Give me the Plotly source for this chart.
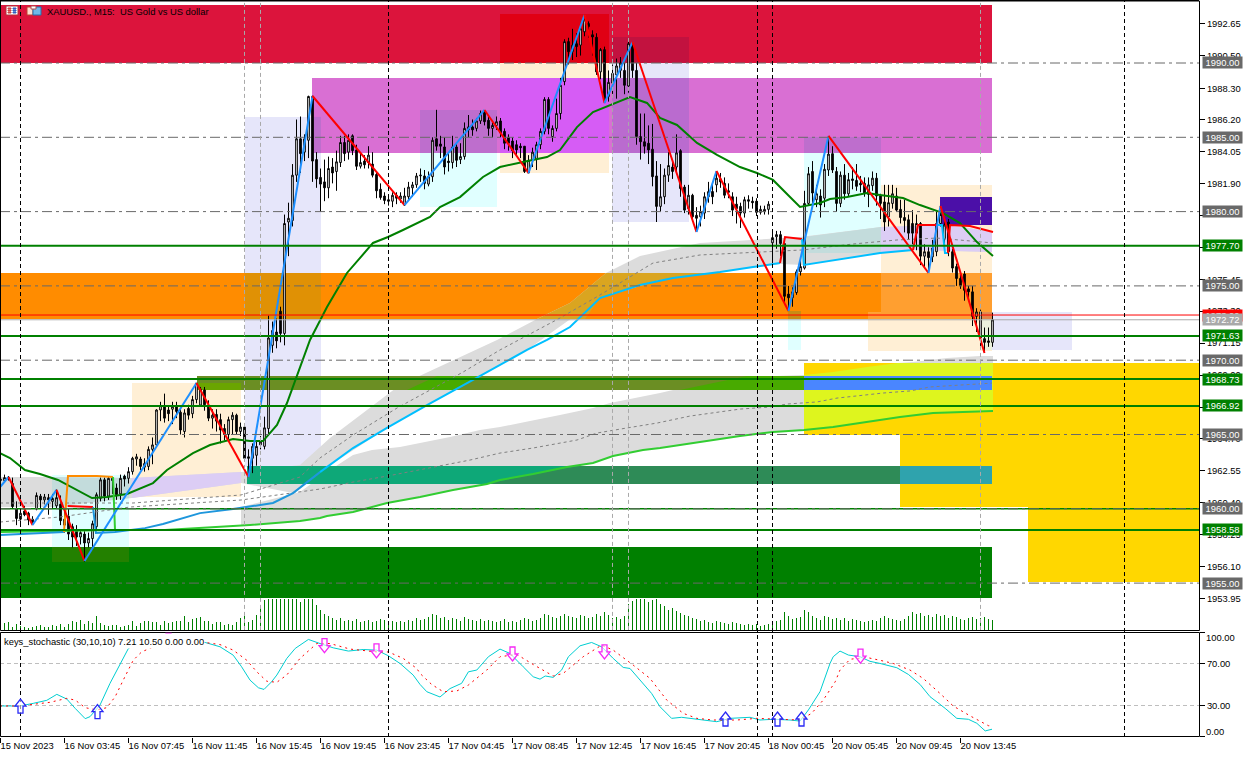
import plotly.graph_objects as go

# ---------- candles (15-minute bars) ----------
opens = [
1961.9,1961.9,1962.1,1961.7,1960.0,1959.3,1959.85,1959.7,1959.3,1960.0,
1960.85,1960.6,1960.75,1960.5,1960.2,1960.3,1958.9,1959.5,1958.8,1958.6,
1958.1,1958.3,1957.7,1958.0,1958.8,1960.7,1961.95,1960.85,1962.05,1961.4,
1961.0,1962.2,1962.05,1962.5,1963.35,1963.35,1962.8,1962.85,1964.0,1964.3,
1966.65,1966.9,1966.65,1966.7,1966.9,1966.5,1965.2,1966.75,1966.4,1967.35,
1966.98,1968.0,1966.95,1966.1,1966.35,1966.0,1965.4,1965.0,1966.0,1966.3,
1965.2,1965.5,1963.5,1963.4,1963.6,1964.3,1964.2,1965.4,1971.0,1971.9,
1973.3,1971.8,1979.3,1979.4,1982.45,1984.9,1984.0,1984.8,1987.75,1983.5,
1982.3,1982.0,1981.6,1983.0,1982.7,1983.3,1984.65,1984.0,1985.1,1984.15,
1983.05,1983.4,1983.3,1983.2,1982.5,1981.5,1981.05,1980.8,1980.7,1981.1,
1980.85,1980.45,1981.0,1981.6,1981.8,1982.4,1982.4,1981.85,1982.35,1984.9,
1984.55,1984.35,1983.4,1983.3,1984.35,1983.5,1983.7,1985.5,1985.7,1985.6,
1986.1,1986.7,1986.15,1985.6,1985.8,1986.1,1985.4,1985.0,1984.75,1984.5,
1984.4,1984.4,1982.6,1983.5,1983.5,1984.5,1985.4,1987.55,1985.05,1985.6,
1986.6,1988.75,1991.44,1990.76,1991.3,1991.2,1992.1,1992.65,1991.9,1991.73,
1989.4,1990.9,1987.75,1988.65,1989.2,1989.5,1989.5,1988.45,1991.3,1989.5,
1985.05,1984.7,1984.6,1984.2,1982.4,1980.35,1981.0,1982.45,1983.0,1983.0,
1984.1,1981.65,1980.2,1981.1,1979.75,1979.65,1979.9,1981.0,1981.35,1981.8,
1982.2,1981.9,1981.4,1981.0,1980.5,1980.35,1979.9,1980.8,1980.7,1980.7,
1979.95,1980.0,1980.15,1977.9,1978.3,1978.45,1977.85,1974.45,1974.2,1974.55,
1975.95,1976.2,1980.55,1982.7,1980.8,1981.05,1980.9,1982.8,1983.9,1982.7,
1980.55,1982.45,1981.2,1982.2,1982.1,1981.9,1981.9,1981.15,1981.75,1982.25,
1981.05,1980.65,1979.65,1980.55,1981.05,1980.15,1979.6,1979.45,1979.2,1978.55,
1979.2,1977.0,1977.3,1976.95,1977.3,1979.2,1978.15,1979.3,1977.3,1976.3,
1975.5,1975.8,1974.8,1974.6,1972.95,1971.5,1971.45,1971.3,1971.2]
closes = [
1962.0,1962.1,1962.0,1960.15,1959.35,1959.7,1959.6,1959.25,1959.1,1960.9,
1960.6,1960.8,1960.6,1960.7,1960.75,1959.2,1959.3,1958.3,1958.1,1958.1,
1958.4,1957.7,1958.0,1959.0,1960.95,1961.95,1960.85,1962.05,1961.9,1960.95,
1962.05,1962.0,1962.5,1963.4,1963.5,1962.85,1963.05,1964.0,1964.3,1966.65,
1966.95,1966.1,1966.4,1966.9,1966.55,1965.3,1966.45,1966.3,1967.35,1968.45,
1968.05,1967.0,1966.1,1966.3,1965.9,1965.3,1965.0,1966.0,1966.3,1965.2,
1965.5,1963.4,1963.4,1964.2,1964.2,1964.5,1965.45,1971.5,1972.0,1971.3,
1971.8,1979.2,1979.55,1982.45,1984.9,1983.9,1984.9,1987.75,1983.4,1982.2,
1981.85,1981.6,1982.9,1982.6,1983.35,1984.65,1983.9,1984.8,1984.1,1983.05,
1983.3,1983.15,1983.8,1982.45,1981.4,1980.95,1980.75,1980.7,1981.1,1980.9,
1981.05,1981.05,1981.65,1981.8,1982.4,1982.45,1981.9,1982.35,1984.8,1984.4,
1984.4,1983.0,1983.3,1984.35,1983.45,1983.7,1985.6,1985.7,1985.5,1986.1,
1986.6,1986.05,1985.6,1985.8,1986.05,1985.3,1984.6,1984.6,1984.1,1984.15,
1984.3,1982.7,1983.45,1984.0,1984.5,1985.4,1987.55,1985.6,1985.6,1986.6,
1988.5,1991.44,1990.76,1991.2,1991.1,1992.3,1992.9,1992.45,1991.75,1989.4,
1990.9,1987.5,1988.7,1989.3,1989.8,1990.0,1988.5,1991.3,1989.5,1985.05,
1984.7,1984.4,1984.15,1982.35,1980.35,1981.0,1982.45,1983.1,1982.7,1983.95,
1981.55,1980.1,1981.1,1979.65,1979.55,1980.0,1981.0,1981.35,1981.0,1982.25,
1982.0,1981.1,1981.3,1980.1,1980.2,1979.9,1980.8,1980.7,1980.6,1979.95,
1980.15,1980.15,1980.5,1978.25,1978.45,1977.85,1974.3,1974.2,1974.6,1975.95,
1976.3,1980.55,1982.55,1981.25,1981.2,1980.45,1982.85,1983.87,1982.8,1980.55,
1982.45,1981.2,1982.15,1982.1,1981.7,1981.8,1981.25,1981.8,1982.25,1981.05,
1980.55,1979.3,1980.6,1981.2,1980.1,1979.6,1979.4,1978.55,1978.55,1979.2,
1977.0,1977.3,1976.9,1977.55,1979.2,1979.8,1979.1,1977.3,1976.2,1975.5,
1975.0,1974.7,1974.6,1972.95,1973.25,1973.25,1971.2,1971.2,1972.72]
highs = [
1962.2,1962.3,1962.2,1962.1,1960.5,1960.0,1960.2,1959.8,1959.5,1961.1,
1961.0,1961.0,1961.0,1961.0,1961.3,1960.9,1960.0,1960.0,1959.0,1958.9,
1958.6,1958.5,1958.4,1959.2,1961.1,1962.1,1962.1,1962.2,1962.2,1961.7,
1962.3,1962.3,1962.8,1963.5,1963.7,1963.5,1963.4,1964.2,1964.8,1966.7,
1967.2,1967.75,1966.9,1967.2,1967.2,1966.7,1966.7,1967.0,1967.6,1968.45,
1968.2,1968.2,1967.3,1966.7,1966.7,1966.4,1965.7,1966.2,1966.5,1966.4,
1965.8,1965.6,1964.0,1964.4,1964.5,1964.9,1966.2,1973.0,1972.6,1972.8,
1973.6,1979.8,1980.6,1983.2,1986.2,1986.4,1985.2,1987.8,1987.8,1984.0,
1982.9,1983.5,1983.7,1983.6,1984.1,1985.1,1985.1,1985.2,1985.2,1984.5,
1984.0,1983.8,1984.4,1984.0,1982.7,1981.9,1981.3,1981.1,1981.3,1981.3,
1981.3,1981.6,1982.0,1982.0,1982.6,1982.9,1982.8,1982.7,1985.0,1986.85,
1985.1,1985.0,1984.0,1985.1,1984.6,1984.6,1986.0,1986.5,1986.2,1986.3,
1986.8,1986.84,1986.5,1986.0,1986.4,1986.3,1985.6,1985.2,1985.0,1984.8,
1984.6,1984.4,1983.8,1984.3,1984.7,1985.6,1987.7,1987.7,1985.8,1987.6,
1989.0,1991.6,1991.7,1992.3,1992.0,1992.6,1993.23,1992.8,1992.2,1992.0,
1991.0,1991.1,1989.5,1989.9,1990.3,1990.4,1990.0,1991.5,1991.41,1990.0,
1986.6,1986.6,1985.8,1985.9,1983.4,1983.2,1982.9,1984.0,1983.4,1985.2,
1984.2,1981.8,1981.8,1981.2,1980.3,1980.4,1981.3,1982.0,1981.9,1982.73,
1982.6,1982.3,1981.9,1981.3,1981.0,1980.6,1981.0,1981.1,1981.0,1980.9,
1980.4,1980.4,1980.7,1978.7,1978.7,1978.7,1977.9,1975.0,1974.9,1976.1,
1976.9,1981.4,1983.0,1983.4,1981.8,1981.5,1983.2,1985.09,1984.4,1983.0,
1982.7,1983.2,1982.6,1983.0,1983.2,1982.4,1982.3,1982.3,1982.7,1982.6,
1981.2,1981.8,1981.8,1981.8,1981.6,1980.8,1980.8,1979.8,1980.1,1979.8,
1979.3,1977.8,1977.6,1978.1,1980.0,1980.38,1979.5,1979.5,1977.5,1976.5,
1976.0,1976.0,1975.0,1975.0,1973.5,1973.4,1972.2,1972.2,1973.2]
lows = [
1961.7,1961.8,1961.9,1960.0,1958.9,1959.0,1959.5,1958.9,1958.9,1959.9,
1960.0,1960.3,1959.6,1960.0,1960.0,1958.9,1958.4,1957.9,1957.4,1957.5,
1957.6,1956.45,1957.4,1957.3,1958.6,1960.5,1960.5,1960.6,1961.0,1960.6,
1960.6,1961.5,1961.7,1962.3,1962.9,1962.6,1962.5,1962.6,1963.0,1964.2,
1965.9,1965.8,1965.9,1965.7,1966.1,1965.0,1964.8,1966.0,1966.1,1967.1,
1966.9,1966.6,1965.9,1965.4,1965.2,1964.4,1964.6,1964.5,1965.0,1965.0,
1964.9,1963.3,1962.14,1962.4,1962.9,1964.0,1964.0,1965.0,1970.5,1970.8,
1971.2,1971.0,1977.0,1979.0,1982.0,1982.6,1983.4,1983.6,1982.0,1981.6,
1980.0,1980.7,1980.9,1981.9,1981.4,1983.0,1983.4,1983.5,1983.8,1982.8,
1982.9,1982.9,1982.9,1982.3,1980.9,1980.8,1980.5,1980.4,1980.3,1980.5,
1980.6,1980.4,1980.8,1981.0,1981.6,1982.0,1981.5,1981.7,1982.0,1984.1,
1983.6,1982.5,1982.7,1982.9,1983.0,1983.2,1983.5,1985.0,1985.1,1985.4,
1985.9,1985.8,1985.1,1985.0,1985.5,1985.0,1984.2,1984.1,1983.6,1983.7,
1983.6,1982.6,1982.6,1983.0,1982.8,1984.2,1985.2,1985.2,1984.7,1985.4,
1986.2,1988.5,1989.9,1990.2,1990.4,1990.5,1991.8,1991.7,1990.5,1989.2,
1988.9,1987.3,1987.4,1987.9,1987.6,1989.0,1987.9,1988.0,1989.0,1984.5,
1983.5,1983.9,1983.2,1981.7,1979.3,1980.0,1980.5,1982.0,1982.2,1982.6,
1981.0,1979.9,1979.8,1979.3,1978.63,1979.0,1979.5,1980.6,1980.5,1981.3,
1981.6,1980.9,1980.9,1979.7,1979.2,1978.9,1979.6,1980.2,1980.2,1979.7,
1979.8,1979.8,1979.8,1976.5,1977.5,1977.0,1973.8,1973.31,1973.6,1974.4,
1975.7,1976.1,1980.4,1980.5,1980.3,1979.6,1980.3,1982.4,1982.6,1980.0,
1980.3,1980.8,1981.0,1981.5,1981.4,1981.3,1981.0,1980.3,1981.4,1980.4,
1979.5,1978.7,1979.0,1980.2,1980.0,1979.2,1978.6,1978.1,1977.8,1977.4,
1976.4,1976.2,1975.87,1976.6,1977.0,1979.0,1977.8,1977.0,1975.9,1975.0,
1974.8,1974.0,1974.2,1972.3,1971.9,1970.9,1970.49,1970.9,1970.9]
volumes = [
5,7,8,3,6,4,3,2,3,4, 5,3,3,5,4,6,3,6,9,8, 10,6,9,7,14,7,5,4,5,5, 3,4,5,9,4,7,9,9,8,8,
5,9,7,8,9,9,14,8,11,12, 13,9,9,6,8,8,5,6,5,8, 12,14,8,10,15,22,30,31,31,31,
31,31,31,31,31,28,31,31,31,25, 20,16,14,12,10,12,9,10,9,11, 8,9,10,8,9,11,10,7,9,8,
9,8,10,9,12,10,11,13,16,15, 12,13,10,12,11,9,13,11,10,9, 11,9,10,9,8,9,11,8,9,8,
10,12,11,9,10,12,16,15,13,12, 14,16,14,13,12,15,14,12,13,16, 14,18,15,12,13,11,14,26,29,31,
31,31,28,30,31,26,24,20,22,19, 17,15,14,12,11,9,10,8,7,9, 8,7,6,8,7,6,5,6,5,6,
4,5,6,7,9,10,18,14,11,12, 13,20,18,14,12,10,14,13,11,12, 10,12,9,11,10,9,8,9,10,9,
12,14,12,11,10,9,11,14,18,16, 17,14,15,13,16,14,15,12,14,13, 11,10,12,13,11,12,13,11,10]

# ---------- zigzag pivots ----------
zz_bar = [0,2,8,14,21,49,62,78,101,121,132,146,151,158,174,179,197,207,232,235,246]
zz_price = [1961.5,1962.14,1958.91,1961.27,1956.49,1968.47,1962.14,1987.78,1980.44,1986.84,1982.6,
            1993.23,1987.31,1991.41,1978.63,1982.73,1973.31,1985.09,1975.87,1980.38,1970.49]

# ---------- moving averages ----------
ma_green_bar = [0,2.5,6.25,10,14.5,19.25,23,26.75,31.75,38.25,41.75,48.25,52.5,58.25,62.5,65.75,69.25,71.75,75,77.5,
                81.75,86.75,93.25,97,100.75,107.5,110,115,120.75,125,130.75,136.75,140,144.25,148.25,151.25,154.25,
                157.5,161.75,165,169.25,174.25,179.25,185,189.25,193.25,197.5,200,205,207.5,211.75,216.75,220,225.75,
                230,235.75,240,244.25,248.25]
ma_green = [1963.75,1963.42,1962.61,1962.34,1961.94,1961.26,1960.72,1960.79,1961.0,1961.73,1962.61,1963.75,1964.29,
            1964.7,1964.56,1964.56,1965.64,1967.12,1969.54,1971.36,1973.58,1975.87,1977.89,1978.29,1978.76,1979.64,
            1980.31,1980.98,1982.33,1983.0,1983.34,1983.67,1984.14,1985.69,1986.7,1987.04,1987.38,1987.71,1987.31,
            1986.3,1985.83,1984.62,1983.81,1983.0,1982.6,1982.13,1980.98,1980.31,1980.58,1980.85,1980.98,1981.25,
            1981.12,1980.91,1980.44,1979.9,1979.23,1977.95,1977.01]

lime_bar = [0,28.75,41.25,62.5,75,80,81.75,88.25,96.75,105,113.25,121.75,125,133.25,141.75,148.25,153.25,160.75,165,
            173.25,185,193.25,201,208.25,216.75,225,233.25,241.75,248.25]
lime = [1958.44,1958.57,1958.57,1958.91,1959.18,1959.38,1959.51,1959.78,1960.39,1960.79,1961.26,1961.67,1961.94,
        1962.34,1962.81,1963.08,1963.55,1963.95,1964.09,1964.43,1964.9,1965.17,1965.3,1965.5,1965.84,1966.18,1966.44,
        1966.51,1966.58]

blue_a_bar = [0,16]
blue_a = [1958.23,1958.44]
orange_bar = [16,16.75,17,24.25,28.25]
orange = [1958.44,1961.06,1962.2,1962.2,1962.14]
green_step_bar = [28.25,28.75]
green_step = [1962.14,1958.57]
red_a_bar = [16.9,23.25]
red_a = [1960.19,1960.12]
blue_b_bar = [23.25,24,28.75,36.25,40.75,50,58.25,68.25,73.25,78.25,80]
blue_b = [1960.12,1958.37,1958.44,1958.7,1958.98,1959.71,1959.98,1960.39,1961.06,1962.07,1962.47]
blue_c_bar = [80,88.25,96.75,106.75,118.25,131.75,136.75,142.5,150,160,168.25,180,188.25,195]
blue_c = [1962.47,1964.09,1965.44,1966.98,1968.67,1970.69,1971.36,1972.23,1974.18,1975.06,1975.53,1975.93,1976.27,1976.54]
red_b_bar = [195,196.25,200.5]
red_b = [1976.54,1978.29,1978.16]
blue_d_bar = [200.5,201,220,228.25]
blue_d = [1978.16,1976.41,1977.21,1977.42]
red_c_bar = [228.25,229.5,234.25]
red_c = [1977.42,1979.1,1979.1]
blue_e_bar = [234.25,235.5,236.25,237]
blue_e = [1979.1,1979.1,1977.21,1977.21]
red_d_bar = [237,237.5,242.5,248.25]
red_d = [1977.21,1979.1,1979.03,1978.63]

dash_a_bar = [0,33.25,60.25,75,80,88.25,99.25,108.25,115.75,125,140,150,163.25,175,200.75,213.25,224.25,234.25,248.25]
dash_a = [1960.39,1960.39,1960.93,1962.14,1963.42,1964.96,1966.78,1968.13,1969.2,1970.69,1972.84,1974.39,1976.54,
          1977.08,1977.42,1977.82,1978.09,1978.22,1977.89]
dash_b_bar = [0,15,32.5,60.25,80,88.25,96.75,108.25,117.5,125,133.25,144.25,149.25,156.75,164.25,172.5,185,192.5,196.75,
              204.25,209.25,220.75,227.5,232.5,240,248]
dash_b = [1959.11,1959.45,1960.12,1960.59,1961.33,1961.8,1962.2,1962.81,1963.28,1963.75,1964.09,1964.63,1965.1,1965.44,
          1965.77,1966.24,1966.71,1966.85,1967.05,1967.19,1967.45,1967.79,1967.93,1968.2,1968.33,1968.46]

# ---------- grey clouds (edge values) ----------
cloud_a_top_bar = [0,13,33,60.25,75,82.5,100,124.25,134.25,142.5,151.5,160,169.25,175,200,220.25,237.5,248]
cloud_a_top = [1962.14,1962.14,1962.07,1962.47,1962.95,1964.76,1968.33,1971.36,1972.77,1973.85,1975.87,1977.01,1977.55,
               1977.89,1978.29,1978.96,1979.1,1978.63]
cloud_a_low_bar = [248,228.75,220,201,195,180,165,150,131.75,118.25,96.75,80,73.25,60.25,33,13,0]
cloud_a_low = [1977.28,1977.42,1977.21,1976.41,1976.47,1975.93,1975.4,1974.18,1970.69,1968.67,1965.44,1962.47,1961.06,
               1961.73,1960.72,1960.12,1960.12]
cloud_b_top_bar = [60.25,75,82.5,88.25,93,100,105,112.5,120,125,132.5,140,148.25,152.5,160,165,168.25,186.75,201,208.25,
                   216.75,224.5,228.25,236.75,245,248.25]
cloud_b_top = [1960.12,1961.13,1962.61,1963.62,1963.95,1964.16,1964.43,1964.83,1965.3,1965.5,1965.91,1966.31,1966.78,
               1967.12,1967.52,1967.79,1968.0,1968.87,1969.0,1969.2,1969.54,1969.81,1969.88,1970.15,1970.28,1970.28]
cloud_b_low_bar = [248.25,241.75,233.25,225,216.75,208.25,201,193.25,185,173.25,165,160.75,153.25,148.25,141.75,133.25,
                   125,121.75,113.25,105,96.75,88.25,81.75,80,75,62.5,60.25]
cloud_b_low = [1966.58,1966.51,1966.44,1966.18,1965.84,1965.5,1965.3,1965.17,1964.9,1964.43,1964.09,1963.95,1963.55,
               1963.08,1962.81,1962.34,1961.94,1961.67,1961.26,1960.79,1960.39,1959.78,1959.51,1959.38,1959.18,1958.91,
               1958.85]

# ---------- stochastic ----------
stoch_bar = [0,5,8.3,11.7,14.2,16.7,18.8,21.3,22.5,25,27.5,30,32.1,36.7,43.3,51.3,55,58.3,60.4,62.5,64.6,66,67.9,69.2,71.7,
             73.8,77.1,80,83.3,87.1,90.8,94.2,97.1,100,103.3,105,106.7,110,112.5,115.4,117.1,119.2,122.1,125,127.5,130.8,
             133.3,135,136.3,138.3,140.4,142.1,145,147.9,150.4,153.3,155.8,157.5,160.4,162.9,165,167.9,170.4,175.8,179.2,
             182.5,187.5,190,193.3,197.5,200,202.1,205,207.5,208.3,210,212.1,215,217.5,220,224.2,227.1,230,232.5,236.3,
             239.2,242.1,244.2,246.3,248]
stoch_main = [29.4,29.4,31.9,34.8,40.5,36,27.1,17.3,19.2,30.3,51,68.4,84.3,93,95,90,85.9,77.9,66.8,54.1,46.8,45.2,52.5,
              58.9,74.8,84.3,92.9,89,84.9,81.8,83.3,82.7,77.3,70,58.9,50,43,38,46,51,62,63.7,76.4,83.7,79.5,66.8,57.3,55,
              58,56.7,63.7,76.4,86.8,90,85.9,74.8,66.2,65.2,52.5,41.4,28.7,17.6,18.6,16.3,14.4,17.6,18.6,16,16.7,16,15,
              25.6,43,70,76.4,81.8,78,76.4,72,70,65.9,59.5,50,38.3,27.1,17.6,16.7,12.9,5.6,7.21]
signal_bar = [0,5,8.3,12.5,16.7,18.8,21.3,24.2,26.7,28.8,30.8,33.3,35.4,43.3,51.3,55,58.3,61.7,64.2,66.7,69.2,71.7,75,79.2,
              82.5,87.5,94.2,97.1,100.8,104.2,105,107.9,110.8,114.2,117.1,121.7,125,129.2,133.3,138.3,140.8,145.8,150.4,
              153.3,158.3,162.5,166.7,170.8,174.2,178.3,184.2,189.2,195,200,202.9,205.8,208.8,210,212.5,216.7,220,223.3,
              227.5,230.8,235,238.3,242.5,247.1,248]
signal = [29.4,29.4,31,32.9,36.7,35,27.8,25.6,27.8,38.3,54,73,81,94,90,88,82.7,73,62,53,52,59,74.8,89,89,83.7,81,81,74.8,
          65.2,60.5,50,43,43.7,49.4,63.7,76.4,78.6,69,58,60.5,76.4,87.5,82.7,68.4,55.7,35,22.4,17.6,16,16,17.6,16.7,16,22.4,
          35,52.5,63.7,74,75.7,73,70,63.7,55.7,41.4,29.4,20,10.6,10.5]
arrow_up_bar = [5,24.25,181.25,194.25,200.25]
arrow_up_val = [29.3,24,17,17,17]
arrow_dn_bar = [42,81,94,128,151,215]
arrow_dn_val = [92,87,82,79,81,77]

# ---------- labels ----------
x_tick_bars = list(range(0,241,16))
x_tick_text = ["15 Nov 2023","16 Nov 03:45","16 Nov 07:45","16 Nov 11:45","16 Nov 15:45","16 Nov 19:45","16 Nov 23:45",
               "17 Nov 04:45","17 Nov 08:45","17 Nov 12:45","17 Nov 16:45","17 Nov 20:45","18 Nov 00:45","20 Nov 05:45",
               "20 Nov 09:45","20 Nov 13:45"]
y_ticks = [1992.65,1990.50,1988.30,1986.20,1984.05,1981.90,1979.75,1977.60,1975.45,1973.30,1971.15,1969.00,1966.85,
           1964.70,1962.55,1960.40,1958.25,1956.10,1953.95]
y_ticks_covered = [1979.75,1977.60,1966.85]
round_levels = [1990,1985,1980,1975,1970,1965,1960,1955]
green_levels = [1977.70,1971.63,1968.73,1966.92,1958.58]
red_level = 1973.04
silver_level = 1972.72

# x0, x1, low, high, colour
base_zones = [
 (0,248,1990,1993.9,"#DC143C"),(125,152.25,1990,1993.3,"#E00014"),(153,172.25,1990,1991.75,"#C2123F"),
 (78,248,1983.94,1988.99,"#D96FD3"),(0,248,1972.77,1975.87,"#FF8C00"),(0,248,1954,1957.43,"#008000"),
 (125,152.25,1982.6,1990,"#FFEFD5"),(125,152.25,1983.94,1988.99,"#D65CF5"),
 (153,172.25,1979.3,1990,"#E6E6FA"),(153,172.25,1983.94,1988.99,"#BA6BCF"),(153,172.25,1990,1991.75,"#C2123F"),
 (105,124.25,1980.31,1986.84,"#E0FFFF"),(105,124.25,1983.94,1986.84,"#BE6ECD"),
 (61.25,80.25,1962.81,1986.37,"#E6E6FA"),(78,80.25,1983.94,1986.37,"#BE6ECD"),(61.25,80.25,1972.77,1975.87,"#E09105"),
 (201,220.25,1977.21,1985.02,"#E0FFFF"),(201,220.25,1983.94,1985.02,"#BE6ECD"),
 (197,200.25,1970.69,1973.31,"#E0FFFF"),(197,200.25,1972.77,1973.31,"#C88C14"),
 (220.25,248,1972.77,1981.79,"#FFEFD5"),(217,248,1970.62,1973.24,"#FFEFD5"),(220.25,248,1972.77,1975.87,"#FF9F30"),
 (217,220.25,1972.77,1973.24,"#FF9F30"),(245.5,268,1970.69,1973.24,"#E6E6FA"),(245.5,248,1970.69,1972.77,"#EBF0DC"),
 (245.5,248,1972.77,1973.24,"#E0874B"),(235,248,1979.1,1980.98,"#4B0FA8"),
 (33,60.25,1960.79,1968.47,"#FFEFD5"),(13,32.25,1956.42,1962.27,"#E0FFFF"),(13,32.25,1956.42,1957.43,"#238000"),
]
top_zones = [
 (201,299.75,1964.97,1969.81,"#FFD700"),(225,299.75,1960.12,1964.97,"#FFD700"),(257,299.75,1955.07,1960.12,"#FFD700"),
]
band_zones = [
 (49.25,201,1968,1968.94,"#6B8E23"),(49.25,60.25,1968,1968.47,"#6AA500"),(201,248,1968,1968.94,"#4A86FF"),
 (61.75,248,1961.67,1962.88,"#2E8B57"),(225,248,1961.67,1962.88,"#2FA3AD"),
]
mix_lower = [
 ("#C3DCDC",[13,32.25,32.25,13],[1962.14,1962.07,1960.72,1960.12]),
 ("#DCCDF5",[33,60.25,60.25,33],[1962.07,1962.47,1961.73,1960.72]),
 ("#DAA520",[134.25,142.5,151.5,179.5,165,160,150,146.25],[1972.77,1973.85,1975.87,1975.87,1975.4,1975.06,1974.18,1972.77]),
 ("#C3DCDC",[201,220.25,220.25,201],[1978.29,1978.96,1977.21,1977.21]),
 ("#DCCDF5",[220.25,237.5,248,248,228.75,220.25],[1978.96,1979.1,1978.63,1977.28,1977.42,1977.21]),
]
mix_upper = [
 ("#DEF51E",[201,208.25,216.75,224.5,248.25,248.25,241.75,233.25,225,216.75,208.25,201],
  [1969.0,1969.2,1969.54,1969.81,1969.81,1966.58,1966.51,1966.44,1966.18,1965.84,1965.5,1965.3]),
]
mix_band = [
 ("#48AA00",[101.75,109.25,119.25,113.25],[1968.0,1968.94,1968.94,1968.0]),
 ("#48AA00",[170,186.75,201,201],[1968.0,1968.94,1968.94,1968.0]),
 ("#0EA878",[61.75,144.5,133.25,121.75,61.75],[1962.88,1962.88,1962.34,1961.67,1961.67]),
]
W, H, PW, PH = 1251, 757, 1199, 737
main_font = "Liberation Sans"
FS = 9.4

def rect(z):
    return dict(type="rect", xref="x", yref="y", x0=z[0], x1=z[1], y0=z[2], y1=z[3], fillcolor=z[4],
                line_width=0, layer="below")

def poly(xs, ys, color):
    path = "M " + " L ".join(f"{a},{b}" for a, b in zip(xs, ys)) + " Z"
    return dict(type="path", xref="x", yref="y", path=path, fillcolor=color, line_width=0, layer="below")

shapes = [rect(z) for z in base_zones]
shapes.append(poly(cloud_a_top_bar + cloud_a_low_bar, cloud_a_top + cloud_a_low, "#DCDCDC"))
shapes.append(poly(cloud_b_top_bar + cloud_b_low_bar, cloud_b_top + cloud_b_low, "#DCDCDC"))
shapes += [poly(x, y, c) for c, x, y in mix_lower]
shapes += [rect(z) for z in top_zones]
shapes += [poly(x, y, c) for c, x, y in mix_upper]
shapes += [rect(z) for z in band_zones]
shapes += [poly(x, y, c) for c, x, y in mix_band]

def hline(v, color, width, dash="solid"):
    return dict(type="line", xref="paper", yref="y", x0=0, x1=1, y0=v, y1=v,
                line=dict(color=color, width=width, dash=dash), layer="above")

shapes.append(hline(1960, "#008000", 1.5))
for v in round_levels:
    shapes.append(hline(v, "#696969", 1, "10px,4px,3px,4px"))
for v in green_levels:
    shapes.append(hline(v, "#008000", 2))
shapes.append(hline(red_level, "#FF0000", 1))
shapes.append(hline(silver_level, "#A9A9A9", 1))

for b in [61, 65, 153, 157, 245]:
    shapes.append(dict(type="line", xref="x", yref="y", x0=b + 0.125, x1=b + 0.125, y0=1951.85, y1=1994.1,
                       line=dict(color="#A9A9A9", width=1, dash="4px,3px"), layer="above"))
for b in [5, 97, 189.25, 193, 281]:
    shapes.append(dict(type="line", xref="x", yref="paper", x0=b + 0.125, x1=b + 0.125, y0=0, y1=1,
                       line=dict(color="#000000", width=1, dash="4px,3px"), layer="above"))
# pane frame
shapes.append(dict(type="rect", xref="paper", yref="paper", x0=0.5/PW, x1=1199.5/PW, y0=(PH-630.5)/PH, y1=(PH-1)/PH,
                   line=dict(color="#000", width=1), layer="above"))
shapes.append(dict(type="rect", xref="paper", yref="paper", x0=0.5/PW, x1=1199.5/PW, y0=(PH-736.5)/PH, y1=(PH-632.5)/PH,
                   line=dict(color="#000", width=1), layer="above"))
shapes.append(dict(type="line", xref="paper", yref="paper", x0=0, x1=1, y0=1, y1=1,
                   line=dict(color="#000", width=2), layer="above"))

def px(x0, y0, x1, y1, fill, line=None):
    return dict(type="rect", xref="paper", yref="paper", x0=x0/PW, x1=x1/PW, y0=(PH-y0)/PH, y1=(PH-y1)/PH,
                fillcolor=fill, line=dict(color=line or fill, width=1), layer="above")

# toolbar icons
shapes += [px(6,6,18,15,"#FFFFFF","#B0303A"), px(8,8,11,9,"#D04040"), px(13,8,16,9,"#3060C0"),
           px(8,10,11,11,"#D04040"), px(13,10,16,11,"#3060C0"), px(8,12,11,13,"#D04040"), px(13,12,16,13,"#3060C0"),
           px(27,7,33,15,"#FFE0D0","#C04030"), px(33,7,41,15,"#70B8E8","#2070B0"), px(31,6,36,9,"#FFFFFF","#B05050")]

# signal arrows: outlined, anchored to bar/value, drawn in a fixed pixel size
def arrow(b, v, up, color):
    s = 1 if up else -1
    pts = [(0,7*s),(5.5,0),(2.5,0),(2.5,-7*s),(-2.5,-7*s),(-2.5,0),(-5.5,0)]
    path = "M " + " L ".join(f"{a},{c}" for a, c in pts) + " Z"
    return dict(type="path", xref="x2", yref="y2", xsizemode="pixel", ysizemode="pixel", xanchor=b + 0.125, yanchor=v, path=path,
                fillcolor="rgba(255,255,255,0.6)", line=dict(color=color, width=1.3), layer="above")

shapes += [arrow(b, v, True, "#2828F5") for b, v in zip(arrow_up_bar, arrow_up_val)]
shapes += [arrow(b, v, False, "#F528F5") for b, v in zip(arrow_dn_bar, arrow_dn_val)]

fig = go.Figure()
fig.add_trace(go.Bar(x=[i + 0.125 for i in range(len(volumes))], y=volumes, width=0.25, marker=dict(color="#008000", line_width=0),
                     xaxis="x", yaxis="y3", showlegend=False))
fig.add_trace(go.Candlestick(x=[i + 0.125 for i in range(len(opens))], open=opens, high=highs, low=lows, close=closes,
                             increasing=dict(line=dict(color="#000", width=1), fillcolor="#FFF"),
                             decreasing=dict(line=dict(color="#000", width=1), fillcolor="#000"),
                             whiskerwidth=0, xaxis="x", yaxis="y", showlegend=False))

def line(x, y, color, width=2, dash=None, xa="x", ya="y"):
    fig.add_trace(go.Scatter(x=x, y=y, mode="lines", line=dict(color=color, width=width, dash=dash),
                             xaxis=xa, yaxis=ya, showlegend=False, hoverinfo="skip"))

line(dash_a_bar, dash_a, "#808080", 1, "3px,3px")
line(dash_b_bar, dash_b, "#808080", 1, "3px,3px")
line(lime_bar, lime, "#32CD32")
line(ma_green_bar, ma_green, "#008000")
line(blue_a_bar, blue_a, "#1E96DC")
line(orange_bar, orange, "#FF8C00")
line(green_step_bar, green_step, "#32CD32")
line(red_a_bar, red_a, "#FF0000")
line(blue_b_bar, blue_b, "#1E96DC")
line(blue_c_bar, blue_c, "#00BFFF")
line(red_b_bar, red_b, "#FF0000")
line(blue_d_bar, blue_d, "#00BFFF")
line(red_c_bar, red_c, "#FF0000")
line(blue_e_bar, blue_e, "#00BFFF")
line(red_d_bar, red_d, "#FF0000")

for k in range(len(zz_bar) - 1):
    col = "#1E90FF" if zz_price[k + 1] > zz_price[k] else "#FF0000"
    line([zz_bar[k] + 0.125, zz_bar[k + 1] + 0.125], [zz_price[k], zz_price[k + 1]], col)

line(stoch_bar, stoch_main, "#00CED1", 1, None, "x2", "y2")
line(signal_bar, signal, "#FF0000", 1, "2px,4px", "x2", "y2")

annotations = []
def note(text, xp, yp, bg=None, height=None):
    annotations.append(dict(text=text, xref="paper", yref="paper", x=xp / PW, y=(PH - yp) / PH, xanchor="left", yanchor="middle",
                            showarrow=False, align="left", font=dict(family=main_font, size=FS, color="#000"),
                            bgcolor=bg, borderpad=0, height=height))

note("XAUUSD., M15:  US Gold vs US dollar", 46, 11)
note("keys_stochastic (30,10,10) 7.21 10.50 0.00 0.00", 3, 641, "#FFFFFF", 14)
note("100.00", 1205, 637)
note("0.00", 1205, 731)

def badge(v, text, color):
    annotations.append(dict(text=text, xref="paper", yref="y", x=1202 / PW, y=v, xanchor="left", yanchor="middle",
                            showarrow=False, width=39, height=11, align="center", bgcolor=color, borderpad=0,
                            font=dict(family=main_font, size=FS, color="#FFFFFF")))

for v in round_levels:
    badge(v, f"{v:.2f}", "#696969")
for v in green_levels:
    badge(v, f"{v:.2f}", "#008000")
badge(red_level, "1973.00", "#FF0000")
badge(silver_level, "1972.72", "#A9A9A9")

axis_font = dict(family=main_font, size=FS, color="#000")
fig.update_layout(
    width=W, height=H, margin=dict(l=0, r=W - PW, t=0, b=H - PH, autoexpand=False), paper_bgcolor="#FFF", plot_bgcolor="#FFF",
    shapes=shapes, annotations=annotations, showlegend=False, bargap=0, boxgap=0.4, barmode="overlay",
    xaxis=dict(domain=[0, 1], range=[0, PW / 4], anchor="y", showgrid=False, zeroline=False, showticklabels=False,
               ticks="", rangeslider=dict(visible=False)),
    xaxis2=dict(domain=[0, 1], range=[0, PW / 4], anchor="y2", showgrid=False, zeroline=False, tickmode="array",
                tickvals=x_tick_bars, ticktext=x_tick_text, ticks="outside", ticklen=5, tickcolor="#000", tickangle=0,
                automargin=False, ticklabelposition="outside right", tickfont=axis_font),
    yaxis=dict(domain=[(PH - 630) / PH, (PH - 2) / PH], range=[1951.844, 1994.105], side="right", anchor="x", showgrid=False,
               zeroline=False, tickmode="array", tickvals=y_ticks,
               ticktext=["" if v in y_ticks_covered else f"{v:.2f}" for v in y_ticks], ticks="outside",
               ticklen=5, tickcolor="#000", tickfont=axis_font, automargin=False),
    yaxis2=dict(domain=[0, (PH - 632) / PH], range=[-0.2, 100], side="right", anchor="x2", zeroline=False, automargin=False,
                tickmode="array", tickvals=[0, 30, 70, 100], ticktext=["", "30.00", "70.00", ""], ticks="outside", ticklen=5,
                tickcolor="#000", tickfont=axis_font, showgrid=True, gridcolor="#BEBEBE", griddash="4px,3px", gridwidth=1),
    yaxis3=dict(domain=[(PH - 630) / PH, (PH - 2) / PH], range=[0, 628], overlaying="y", anchor="x", visible=False),
)
fig.write_html("out.html", config=dict(displayModeBar=False),
               post_script="document.body.style.margin='0';document.body.style.overflow='hidden';")
